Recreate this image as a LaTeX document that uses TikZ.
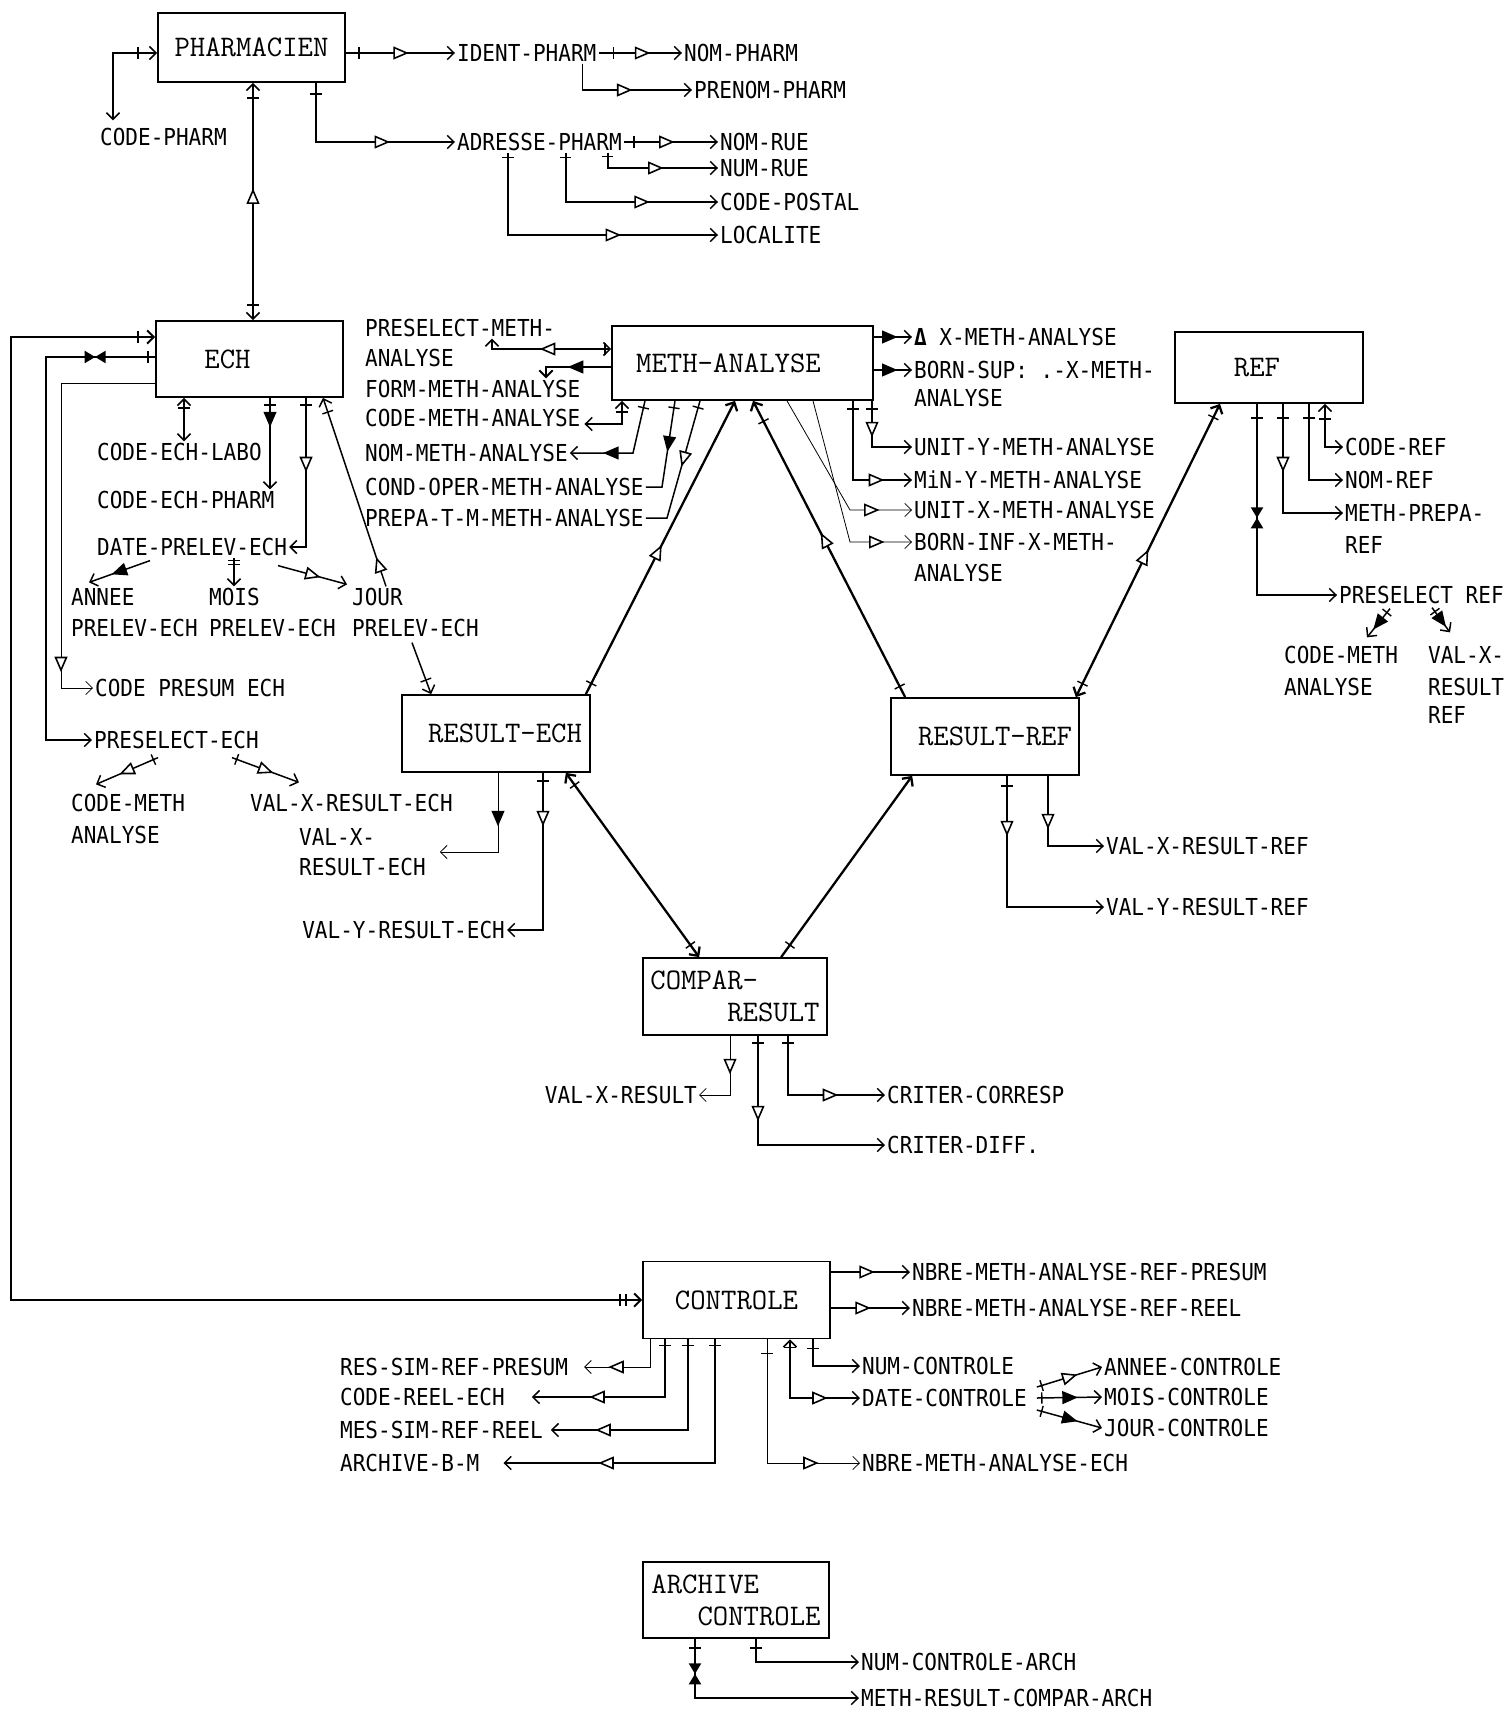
\documentclass[tikz,border=0pt]{standalone}
\usepackage{fontspec}
\usepackage{tikz}
\usetikzlibrary{arrows.meta,calc,decorations.markings}
\newfontfamily\attrfont[FakeStretch=0.9]{DejaVu Sans Mono}
\tikzset{
  entity/.style={draw, line width=1pt, inner sep=2pt, font={\ttfamily\fontsize{17}{18.2}\selectfont}},
  attr/.style={anchor=west, inner sep=1pt, text height=9.7pt, text depth=0pt, font={\attrfont\fontsize{13.3}{17}\selectfont}},
  link/.style={line width=0.85pt},
  rel/.style={line width=1.3pt},
  faint/.style={line width=0.45pt},
  cbar/.style={postaction={decorate,decoration={markings,mark=at position #1 with {\draw[-,solid,line width=0.8pt] (0,-3.2pt) -- (0,3.2pt);}}}},
  otri/.style={postaction={decorate,decoration={markings,mark=at position #1 with {\draw[-,solid,line width=0.9pt,fill=white] (3.6pt,0) -- (-3.6pt,3.1pt) -- (-3.6pt,-3.1pt) -- cycle;}}}},
  ftri/.style={postaction={decorate,decoration={markings,mark=at position #1 with {\draw[-,solid,line width=0.9pt,fill=black] (3.6pt,0) -- (-3.6pt,3.1pt) -- (-3.6pt,-3.1pt) -- cycle;}}}},
  btie/.style={postaction={decorate,decoration={markings,mark=at position #1 with {\fill (0,0) -- (-6pt,3.6pt) -- (-6pt,-3.6pt) -- cycle; \fill (0,0) -- (6pt,3.6pt) -- (6pt,-3.6pt) -- cycle;}}}},
  >={Straight Barb[length=3.8pt,width=7.5pt]}
}
\begin{document}
\begin{tikzpicture}[x=0.02cm,y=-0.02cm]
\useasboundingbox (0,0) rectangle (1506,1713);
\clip (0,0) rectangle (1506,1713);

\node[entity, minimum width=3.74cm, minimum height=1.38cm] (pharm) at (251.5,47.5) {PHARMACIEN};
\node[entity, minimum width=3.74cm, minimum height=1.52cm] (ech) at (249.5,359) {ECH\hspace*{0.88cm}};
\node[entity, minimum width=5.22cm, minimum height=1.48cm] (meth) at (742.5,363) {METH-ANALYSE\hspace*{0.56cm}};
\node[entity, minimum width=3.76cm, minimum height=1.42cm] (ref) at (1269,367.5) {REF\hspace*{0.48cm}};
\node[entity, minimum width=3.76cm, minimum height=1.54cm] (resech) at (496,733.5) {\hspace*{0.36cm}RESULT-ECH};
\node[entity, minimum width=3.76cm, minimum height=1.54cm] (resref) at (985,736.5) {\hspace*{0.4cm}RESULT-REF};
\node[entity, minimum width=3.68cm, minimum height=1.54cm, align=left] (compar) at (735,996.5) {COMPAR-\\\phantom{COMPA}RESULT};
\node[entity, minimum width=3.74cm, minimum height=1.54cm] (controle) at (736.5,1300) {CONTROLE};
\node[entity, minimum width=3.72cm, minimum height=1.52cm, align=left] (archive) at (736,1600) {ARCHIVE\\\phantom{ARC}CONTROLE};

\node[attr] (codeph) at (98,137) {CODE-PHARM};
\node[attr] (identph) at (455,53) {IDENT-PHARM};
\node[attr] (nomph) at (682,53) {NOM-PHARM};
\node[attr] (prenomph) at (692,90) {PRENOM-PHARM};
\node[attr] (adrph) at (455,142) {ADRESSE-PHARM};
\node[attr] (nomrue) at (718,142) {NOM-RUE};
\node[attr] (numrue) at (718,168) {NUM-RUE};
\node[attr] (codepost) at (718,202) {CODE-POSTAL};
\node[attr] (localite) at (718,235) {LOCALITE};

\node[attr] (preselm) at (363,328) {PRESELECT-METH-};
\node[attr] (preselmb) at (363,358) {ANALYSE};
\node[attr] (formm) at (363,389) {FORM-METH-ANALYSE};
\node[attr] (codem) at (363,418) {CODE-METH-ANALYSE};
\node[attr] (nomm) at (363,453) {NOM-METH-ANALYSE};
\node[attr] (condo) at (363,487) {COND-OPER-METH-ANALYSE};
\node[attr] (prepa) at (363,518) {PREPA-T-M-METH-ANALYSE};

\node[attr] (cehlabo) at (95,452) {CODE-ECH-LABO};
\node[attr] (cehpharm) at (95,500) {CODE-ECH-PHARM};
\node[attr] (datepe) at (95,547) {DATE-PRELEV-ECH};
\node[attr] (annee) at (69,597) {ANNEE};
\node[attr] (anneeb) at (69,628) {PRELEV-ECH};
\node[attr] (mois) at (207,597) {MOIS};
\node[attr] (moisb) at (207,628) {PRELEV-ECH};
\node[attr] (jour) at (350,597) {JOUR};
\node[attr] (jourb) at (350,628) {PRELEV-ECH};
\node[attr] (cpresum) at (93,688) {CODE PRESUM ECH};
\node[attr] (presech) at (92,740) {PRESELECT-ECH};
\node[attr] (cmeth1) at (69,803) {CODE-METH};
\node[attr] (cmeth1b) at (69,835) {ANALYSE};
\node[attr] (valxres) at (248,803) {VAL-X-RESULT-ECH};
\node[attr] (valxre) at (297,837) {VAL-X-};
\node[attr] (valxreb) at (297,867) {RESULT-ECH};
\node[attr, anchor=east] (valyre) at (507,930) {VAL-Y-RESULT-ECH};

\node[attr] (dxm) at (912,337) {\textbf{Δ} X-METH-ANALYSE};
\node[attr] (bsup) at (912,370) {BORN-SUP: .-X-METH-};
\node[attr] (bsupb) at (912,398) {ANALYSE};
\node[attr] (unity) at (912,447) {UNIT-Y-METH-ANALYSE};
\node[attr] (miny) at (912,480) {MiN-Y-METH-ANALYSE};
\node[attr] (unitx) at (912,510) {UNIT-X-METH-ANALYSE};
\node[attr] (binf) at (912,542) {BORN-INF-X-METH-};
\node[attr] (binfb) at (912,573) {ANALYSE};

\node[attr] (coderef) at (1343,447) {CODE-REF};
\node[attr] (nomref) at (1343,480) {NOM-REF};
\node[attr] (methprep) at (1343,513) {METH-PREPA-};
\node[attr] (methprepb) at (1343,545) {REF};
\node[attr] (presref) at (1337,595) {PRESELECT REF};
\node[attr] (cmeth2) at (1282,655) {CODE-METH};
\node[attr] (cmeth2b) at (1282,687) {ANALYSE};
\node[attr] (valx2) at (1426,655) {VAL-X-};
\node[attr] (valx2b) at (1426,687) {RESULT};
\node[attr] (valx2c) at (1426,715) {REF};

\node[attr] (valxrr) at (1104,846) {VAL-X-RESULT-REF};
\node[attr] (valyrr) at (1104,907) {VAL-Y-RESULT-REF};
\node[attr, anchor=east] (valxr) at (699,1095) {VAL-X-RESULT};
\node[attr] (critcorr) at (885,1095) {CRITER-CORRESP};
\node[attr] (critdiff) at (885,1145) {CRITER-DIFF.};

\node[attr] (nbrep) at (910,1272) {NBRE-METH-ANALYSE-REF-PRESUM};
\node[attr] (nbrer) at (910,1308) {NBRE-METH-ANALYSE-REF-REEL};
\node[attr] (ressim) at (338,1367) {RES-SIM-REF-PRESUM};
\node[attr] (codereel) at (338,1397) {CODE-REEL-ECH};
\node[attr] (messim) at (338,1430) {MES-SIM-REF-REEL};
\node[attr] (archbm) at (338,1463) {ARCHIVE-B-M};
\node[attr] (numc) at (860,1366) {NUM-CONTROLE};
\node[attr] (datec) at (860,1398) {DATE-CONTROLE};
\node[attr] (nbreech) at (860,1463) {NBRE-METH-ANALYSE-ECH};
\node[attr] (anneec) at (1102,1367) {ANNEE-CONTROLE};
\node[attr] (moisc) at (1102,1397) {MOIS-CONTROLE};
\node[attr] (jourc) at (1102,1428) {JOUR-CONTROLE};
\node[attr] (numca) at (859,1662) {NUM-CONTROLE-ARCH};
\node[attr] (methrca) at (859,1698) {METH-RESULT-COMPAR-ARCH};

\coordinate (lnk) at (11,337);

\draw[link,->,cbar=0.26cm,otri=0.5] (pharm.east |- identph.west) -- (identph.west);
\draw[link,->,cbar=0.3cm,otri=0.52] (identph.east) -- (nomph.west);
\draw[link,->,otri=0.5] ($(identph.south east)+(-16,0)$) |- (prenomph.west);
\draw[link,<->,cbar=0.38cm] (pharm.west |- identph.west) -| ($(codeph.north west)+(15,-6)$);
\draw[link,<->,cbar=0.3cm,cbar=-0.3cm,otri=0.52] (253,0 |- ech.north) -- (253,0 |- pharm.south);
\draw[link,->,cbar=0.22cm,otri=0.63] (316,0 |- pharm.south) |- (adrph.west);
\draw[link,->,cbar=0.2cm,otri=0.45] (adrph.east) -- (nomrue.west);
\draw[link,->,cbar=0.08cm,otri=0.5] ($(adrph.south east)+(-16,0)$) |- (numrue.west);
\draw[link,->,cbar=0.1cm,otri=0.62] ($(adrph.south east)+(-58,0)$) |- (codepost.west);
\draw[link,->,cbar=0.1cm,otri=0.64] ($(adrph.south west)+(53,0)$) |- (localite.west);

\draw[link,line width=1.1pt,<->,cbar=0.32cm,cbar=0.44cm,cbar=-0.34cm] (controle.west) -| (lnk) -- (ech.west |- lnk);
\draw[link,->,cbar=0.14cm,btie=1.2cm] (ech.west |- 0,357) -| ($(presech.west)+(-46,0)$) -- (presech.west);
\draw[faint,->,otri=7.5cm] (ech.west |- 0,383) -| ($(cpresum.west)+(-32,0)$) -- (cpresum.west);
\draw[link,<->,cbar=0.2cm] (184,0 |- ech.south) -- (184,0 |- cehlabo.north);
\draw[link,->,cbar=0.14cm,ftri=0.42cm] (270,0 |- ech.south) -- (270,0 |- cehpharm.north);
\draw[link,->,cbar=0.14cm,otri=1.32cm] (306,0 |- ech.south) |- (datepe.east);
\draw[link,->,otri=0.45cm,cbar=-0.3cm] ($(jour.north west)+(36,0)$) -- (323,0 |- ech.south);
\draw[link,->,ftri=0.5] ($(datepe.south west)+(55,3)$) -- ($(annee.north west)+(20,-4)$);
\draw[link,->,cbar=0.06cm,cbar=0.14cm] (234,0 |- datepe.south) -- (234,0 |- mois.north);
\draw[link,->,otri=0.5] ($(datepe.south west)+(183,8)$) -- ($(jour.north west)+(-3,-2)$);
\draw[link,->,cbar=-0.3cm] ($(jourb.south west)+(62,4)$) -- ($(resech.north west)+(30,0)$);

\draw[link,<->,cbar=0.12cm,otri=1.26cm] (meth.west |- 0,349) -| ($(preselm.south west)+(129,0)$);
\draw[link,line width=1.1pt,->,ftri=0.7cm] (meth.west |- 0,367) -| ($(formm.north west)+(183,0)$);
\draw[link,<->,cbar=0.22cm] (622,0 |- meth.south) |- ($(codem.east)+(2,6)$);
\draw[link,->,cbar=0.14cm,ftri=1.5cm] (645,0 |- meth.south) -- (633,0 |- nomm.east) -- (nomm.east);
\draw[link,cbar=0.14cm,ftri=0.86cm] (675,0 |- meth.south) -- (662,0 |- condo.east) -- (condo.east);
\draw[link,cbar=0.14cm,otri=1.2cm] (700,0 |- meth.south) -- (667,0 |- prepa.east) -- (prepa.east);

\draw[link,->,ftri=0.4] (meth.east |- dxm.west) -- (dxm.west);
\draw[link,->,ftri=0.4] (meth.east |- bsup.west) -- (bsup.west);
\draw[link,->,cbar=0.16cm,otri=0.56cm] (872,0 |- meth.south) |- (unity.west);
\draw[link,->,cbar=0.16cm,otri=2.04cm] (853,0 |- meth.south) |- (miny.west);
\draw[faint,->,otri=2.94cm] (787,0 |- meth.south) -- (850,0 |- unitx.west) -- (unitx.west);
\draw[faint,->,otri=3.44cm] (813,0 |- meth.south) -- (850,0 |- binf.west) -- (binf.west);

\draw[rel,->,cbar=0.24cm,otri=3.18cm] ($(resech.north east)+(-5,0)$) -- (735,0 |- meth.south);
\draw[rel,->,cbar=0.24cm,cbar=-0.46cm,otri=3.53cm] ($(resref.north west)+(15,0)$) -- (753,0 |- meth.south);
\draw[rel,<->,cbar=0.3cm,cbar=-0.3cm,otri=3.12cm] ($(resref.north east)+(-4,0)$) -- (1220,0 |- ref.south);
\draw[rel,<->,cbar=0.3cm,cbar=-0.3cm] ($(resech.south east)+(-25,0)$) -- ($(compar.north west)+(57,0)$);
\draw[rel,->,cbar=0.3cm] ($(compar.north west)+(139,0)$) -- ($(resref.south west)+(22,0)$);

\draw[faint,->,ftri=0.9cm] (498,0 |- resech.south) |- ($(valxreb.east)+(12,-15)$);
\draw[link,->,cbar=0.16cm,otri=0.9cm] (543,0 |- resech.south) |- (valyre.east);
\draw[link,->,cbar=0.1cm,otri=0.5] ($(presech.south west)+(66,7)$) -- ($(cmeth1.north west)+(27,-8)$);
\draw[link,->,cbar=0.1cm,otri=0.5] ($(presech.south west)+(140,7)$) -- ($(valxres.north west)+(51,-10)$);

\draw[faint,->,otri=0.6cm] (730,0 |- compar.south) |- (valxr.east);
\draw[link,->,cbar=0.14cm,otri=1.54cm] (758,0 |- compar.south) |- (critdiff.west);
\draw[link,->,cbar=0.14cm,otri=2.02cm] (788,0 |- compar.south) |- (critcorr.west);
\draw[link,->,cbar=0.2cm,otri=1.04cm] (1007,0 |- resref.south) |- (valyrr.west);
\draw[link,->,otri=0.9cm] (1048,0 |- resref.south) |- (valxrr.west);

\draw[link,->,cbar=0.28cm,btie=2.28cm] (1257,0 |- ref.south) |- (presref.west);
\draw[link,->,cbar=0.28cm,otri=1.2cm] (1283,0 |- ref.south) |- (methprep.west);
\draw[link,->,cbar=0.28cm] (1309,0 |- ref.south) |- (nomref.west);
\draw[link,<->,cbar=0.3cm] (1325,0 |- ref.south) |- (coderef.west);
\draw[link,->,cbar=0.1cm,ftri=0.5] ($(presref.south west)+(53,3)$) -- ($(cmeth2.north west)+(85,-7)$);
\draw[link,->,cbar=0.1cm,ftri=0.5] ($(presref.south west)+(95,2)$) -- ($(valx2.north west)+(24,-12)$);

\draw[link,->,otri=0.45] (controle.east |- nbrep.west) -- (nbrep.west);
\draw[link,->,otri=0.4] (controle.east |- nbrer.west) -- (nbrer.west);
\draw[faint,->,otri=1.22cm] (650,0 |- controle.south) |- ($(ressim.east)+(14,0)$);
\draw[link,->,cbar=0.12cm,otri=2.5cm] (665,0 |- controle.south) |- ($(codereel.east)+(25,0)$);
\draw[link,->,cbar=0.12cm,otri=3.5cm] (688,0 |- controle.south) |- ($(messim.east)+(6,0)$);
\draw[link,->,cbar=0.12cm,otri=4.64cm] (715,0 |- controle.south) |- ($(archbm.east)+(22,0)$);
\draw[faint,->,cbar=0.28cm,otri=3.34cm] (767,0 |- controle.south) |- (nbreech.west);
\draw[link,<->,cbar=0.16cm,otri=1.76cm] (790,0 |- controle.south) |- (datec.west);
\draw[link,->,cbar=0.18cm] (813,0 |- controle.south) |- (numc.west);
\draw[link,->,cbar=0.1cm,otri=0.5] ($(datec.east)+(8,-11)$) -- (anneec.west);
\draw[link,->,cbar=0.1cm,ftri=0.5] ($(datec.east)+(8,0)$) -- (moisc.west);
\draw[link,->,cbar=0.1cm,ftri=0.5] ($(datec.east)+(8,12)$) -- (jourc.west);

\draw[link,->,cbar=0.18cm] (756,0 |- archive.south) |- (numca.west);
\draw[link,->,cbar=0.18cm,btie=0.7cm] (695,0 |- archive.south) |- (methrca.west);
\end{tikzpicture}
\end{document}
